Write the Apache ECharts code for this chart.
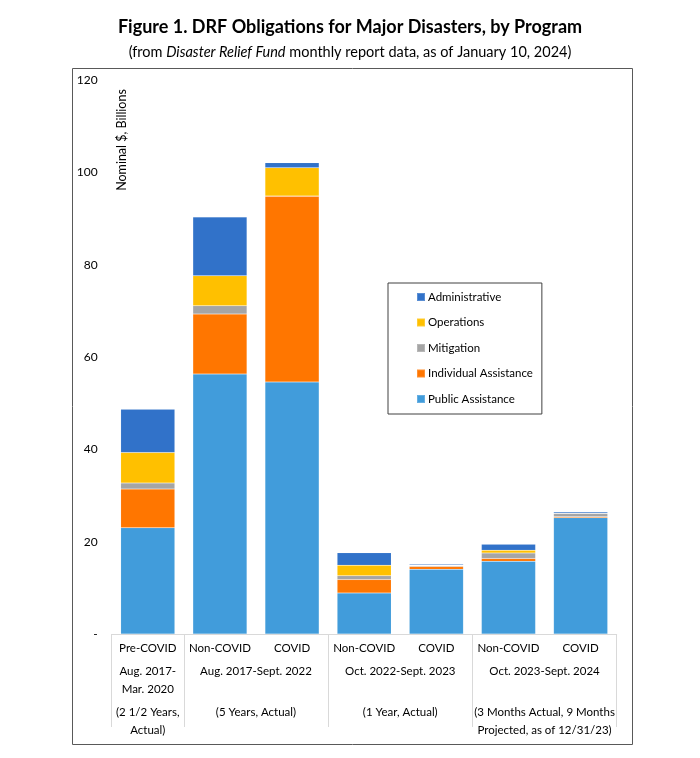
<!DOCTYPE html>
<html>
<head>
<meta charset="utf-8">
<script src="https://cdn.jsdelivr.net/npm/echarts@6/dist/echarts.min.js"></script>
<style>html,body{margin:0;padding:0;background:#fff;}#c{width:700px;height:758px;}</style>
</head>
<body>
<div id="c"></div>
<script>
const categories = ["Pre-COVID", "Non-COVID", "COVID", "Non-COVID", "COVID", "Non-COVID", "COVID"];
const publicAssistance     = [23.0, 56.3, 54.6,  8.9, 14.0, 15.75, 25.2];
const individualAssistance = [ 8.4, 13.0, 40.2,  2.9,  0.6,  0.6,  0.2];
const mitigation           = [ 1.3,  1.8,  0.1,  0.8,  0.2,  1.2,  0.7];
const operations           = [ 6.6,  6.5,  6.1,  2.3,  0.1,  0.6,  0.1];
const administrative       = [ 9.4, 12.7,  1.1,  2.7,  0.2,  1.3,  0.3];
const yTicks = [0, 20, 40, 60, 80, 100, 120];
const groupPositions = [0.5, 2, 4, 6];
const groupDates = ["Aug. 2017-\nMar. 2020", "Aug. 2017-Sept. 2022", "Oct. 2022-Sept. 2023", "Oct. 2023-Sept. 2024"];
const groupNotes = ["(2 1/2 Years,\nActual)", "(5 Years, Actual)", "(1 Year, Actual)", "(3 Months Actual, 9 Months\nProjected, as of 12/31/23)"];
const groupBoundaries = [0, 1, 3, 5, 7];

const FONT = 'Lato';
const chart = echarts.init(document.getElementById('c'), null, {renderer: 'canvas'});

function groupFmt(arr) {
  return function (v) {
    for (let i = 0; i < groupPositions.length; i++) {
      if (Math.abs(groupPositions[i] - v) < 1e-6) return arr[i];
    }
    return '';
  };
}

const seriesDefs = [
  ['Public Assistance', publicAssistance, '#419cdb'],
  ['Individual Assistance', individualAssistance, '#ff7600'],
  ['Mitigation', mitigation, '#a5a5a5'],
  ['Operations', operations, '#ffc000'],
  ['Administrative', administrative, '#3172c9']
];

const option = {
  animation: false,
  backgroundColor: '#fff',
  title: [{
    text: 'Figure 1. DRF Obligations for Major Disasters, by Program',
    left: 'center', top: 13,
    textStyle: {fontFamily: FONT, fontWeight: 'bold', fontSize: 18, color: '#000'}
  }, {
    text: '(from {i|Disaster Relief Fund} monthly report data, as of January 10, 2024)',
    left: 'center', top: 40,
    textStyle: {fontFamily: FONT, fontWeight: 'normal', fontSize: 14.5, color: '#000',
      rich: {i: {fontFamily: FONT, fontStyle: 'italic', fontSize: 14.5, color: '#000'}}}
  }],
  legend: {
    orient: 'vertical',
    left: 388, top: 283,
    data: ['Administrative', 'Operations', 'Mitigation', 'Individual Assistance', 'Public Assistance'],
    itemWidth: 8, itemHeight: 8, itemGap: 11.5,
    icon: 'rect',
    borderColor: '#404040', borderWidth: 1,
    padding: [7, 9, 8, 28],
    textStyle: {fontFamily: FONT, fontSize: 11.5, color: '#000', lineHeight: 14, padding: [0, 0, 0, -2]}
  },
  grid: {left: 111.7, right: 83.3, top: 80, bottom: 124, containLabel: false},
  xAxis: [{
    type: 'category', data: categories,
    axisLine: {show: true, lineStyle: {color: '#d9d9d9', width: 1}},
    axisTick: {show: false},
    axisLabel: {fontFamily: FONT, fontSize: 11.5, color: '#000', margin: 8, interval: 0}
  }, {
    type: 'value', min: 0, max: 7, position: 'bottom',
    axisLine: {show: false},
    splitLine: {show: false},
    axisTick: {show: true, customValues: groupBoundaries, length: 93, lineStyle: {color: '#d9d9d9', width: 1}},
    axisLabel: {customValues: groupPositions, formatter: groupFmt(groupDates),
      fontFamily: FONT, fontSize: 11.5, color: '#000', margin: 28, lineHeight: 18, align: 'center'}
  }, {
    type: 'value', min: 0, max: 7, position: 'bottom',
    axisLine: {show: false}, splitLine: {show: false}, axisTick: {show: false},
    axisLabel: {customValues: groupPositions, formatter: groupFmt(groupNotes),
      fontFamily: FONT, fontSize: 11.5, color: '#000', margin: 69, lineHeight: 18, align: 'center'}
  }],
  yAxis: {
    type: 'value', min: 0, max: 120, interval: 20,
    axisLine: {show: false}, axisTick: {show: false}, splitLine: {show: false},
    axisLabel: {fontFamily: FONT, fontSize: 12, color: '#000', margin: 14,
      formatter: function (v) { return v === 0 ? '-' : String(v); }}
  },
  series: seriesDefs.map(function (d) {
    return {
      name: d[0], type: 'bar', stack: 'total', data: d[1],
      xAxisIndex: 0, yAxisIndex: 0,
      barCategoryGap: '25%',
      itemStyle: {color: d[2], borderColor: 'rgba(255,255,255,0.2)', borderWidth: 0.5}
    };
  }),
  graphic: [{
    type: 'rect', silent: true,
    shape: {x: 72.5, y: 68.5, width: 560, height: 676},
    style: {fill: 'none', stroke: '#595959', lineWidth: 1}
  }, {
    type: 'text', silent: true,
    x: 122, y: 140, rotation: Math.PI / 2,
    style: {text: 'Nominal $, Billions', fontFamily: FONT, fontSize: 12.5, fill: '#000',
      align: 'center', verticalAlign: 'middle'}
  }]
};
chart.setOption(option);
</script>
</body>
</html>
